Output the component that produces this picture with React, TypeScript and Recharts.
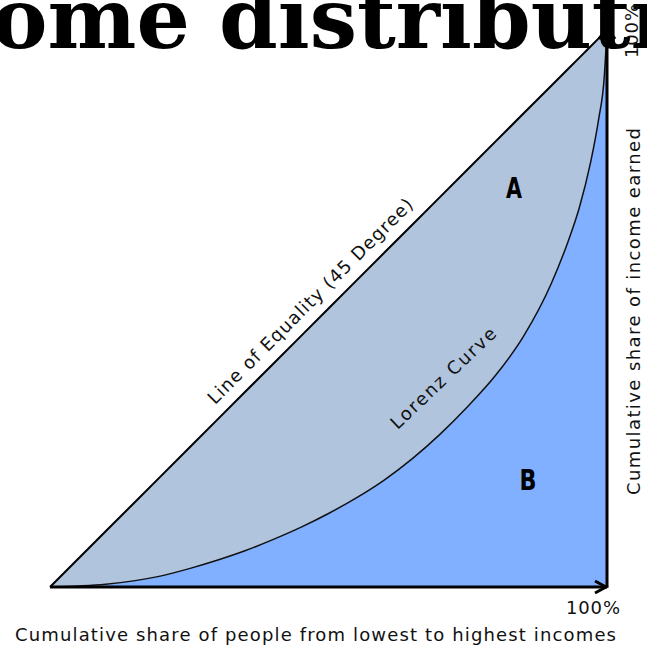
import { ComposedChart, Area, XAxis, YAxis, ReferenceLine, ReferenceDot } from 'recharts';

// cumulative share of people (x, %) and of income (y, %)
const peopleShare = [0, 10, 15, 20, 25, 30, 35, 40, 45, 50, 55, 60, 65, 70, 75, 80, 85, 90, 93, 95, 97, 98.5, 99.5, 100];
const equalityShare = [0, 10, 15, 20, 25, 30, 35, 40, 45, 50, 55, 60, 65, 70, 75, 80, 85, 90, 93, 95, 97, 98.5, 99.5, 100];
const lorenzShare = [0, 0.5, 1.1, 2.0, 3.3, 4.8, 6.5, 8.5, 10.7, 13.2, 16.0, 19.2, 23.0, 27.4, 32.4, 38.0, 45.0, 54.5, 62.0, 68.0, 76.0, 84.0, 91.5, 100];

const axisEnd = 100;
const pctLabel = '100%';
const xTitle = 'Cumulative share of people from lowest to highest incomes';
const yTitle = 'Cumulative share of income earned';
const equalityLabel = 'Line of Equality (45 Degree)';
const lorenzLabel = 'Lorenz Curve';
const pageTitle = 'Income distribution';

const data = peopleShare.map((x, i) => ({
  x,
  equality: equalityShare[i],
  lorenz: lorenzShare[i],
}));

const sans = '"DejaVu Sans", sans-serif';

function UpArrow(props: any) {
  const { cx, cy } = props;
  return (
    <polyline
      points={`${cx - 8},${cy + 9} ${cx},${cy - 2} ${cx + 8},${cy + 9}`}
      fill="none"
      stroke="#000"
      strokeWidth={3}
    />
  );
}

function RightArrow(props: any) {
  const { cx, cy } = props;
  return (
    <polyline
      points={`${cx - 12},${cy - 6} ${cx - 1},${cy} ${cx - 12},${cy + 6}`}
      fill="none"
      stroke="#000"
      strokeWidth={3}
    />
  );
}

export default function App() {
  return (
    <div style={{ position: 'absolute', left: 0, top: 0, width: 647, height: 651, background: '#fff' }}>
      <ComposedChart
        width={647}
        height={651}
        data={data}
        margin={{ top: 30, right: 40, bottom: 64, left: 50 }}
      >
        <XAxis type="number" dataKey="x" domain={[0, 100]} hide />
        <YAxis type="number" domain={[0, 100]} hide />
        <Area
          type="linear"
          dataKey="equality"
          stroke="#000"
          strokeWidth={2}
          fill="#b0c4de"
          fillOpacity={1}
          isAnimationActive={false}
        />
        <Area
          type="monotone"
          dataKey="lorenz"
          stroke="#111"
          strokeWidth={1.5}
          fill="#80b0ff"
          fillOpacity={1}
          isAnimationActive={false}
        />
        <ReferenceLine
          segment={[{ x: 0, y: 0 }, { x: axisEnd, y: 0 }]}
          stroke="#000"
          strokeWidth={3}
          ifOverflow="visible"
        />
        <ReferenceLine
          segment={[{ x: axisEnd, y: 0 }, { x: axisEnd, y: axisEnd }]}
          stroke="#000"
          strokeWidth={3}
          ifOverflow="visible"
        />
        <ReferenceDot x={axisEnd} y={axisEnd} r={0} shape={UpArrow} ifOverflow="visible" />
        <ReferenceDot x={axisEnd} y={0} r={0} shape={RightArrow} ifOverflow="visible" />
      </ComposedChart>

      <svg
        width={647}
        height={651}
        style={{ position: 'absolute', left: 0, top: 0, pointerEvents: 'none' }}
      >
        <text
          x={-160}
          y={48}
          fontFamily='"DejaVu Serif", serif'
          fontWeight="bold"
          fontSize={84}
          fill="#000"
        >
          {pageTitle}
        </text>

        <text
          x={310}
          y={301}
          transform="rotate(-45 310 301)"
          textAnchor="middle"
          dominantBaseline="central"
          fontFamily={sans}
          fontSize={18}
          textLength={282}
          lengthAdjust="spacing"
          fill="#111"
        >
          {equalityLabel}
        </text>
        <text
          x={443}
          y={378}
          transform="rotate(-43.5 443 378)"
          textAnchor="middle"
          dominantBaseline="central"
          fontFamily={sans}
          fontSize={18}
          textLength={138}
          lengthAdjust="spacing"
          fill="#111"
        >
          {lorenzLabel}
        </text>

        <text
          x={514}
          y={198}
          textAnchor="middle"
          fontFamily={sans}
          fontWeight="bold"
          fontSize={28}
          textLength={16}
          lengthAdjust="spacingAndGlyphs"
          fill="#000"
        >
          A
        </text>
        <text
          x={528}
          y={490}
          textAnchor="middle"
          fontFamily={sans}
          fontWeight="bold"
          fontSize={28}
          textLength={17}
          lengthAdjust="spacingAndGlyphs"
          fill="#000"
        >
          B
        </text>

        <text
          x={620}
          y={614}
          textAnchor="end"
          fontFamily={sans}
          fontSize={18}
          textLength={54}
          lengthAdjust="spacing"
          fill="#111"
        >
          {pctLabel}
        </text>
        <text
          x={15}
          y={641}
          fontFamily={sans}
          fontSize={18}
          textLength={601}
          lengthAdjust="spacing"
          fill="#111"
        >
          {xTitle}
        </text>

        <text
          x={638}
          y={58}
          transform="rotate(-90 638 58)"
          fontFamily={sans}
          fontSize={18}
          textLength={54}
          lengthAdjust="spacing"
          fill="#111"
        >
          {pctLabel}
        </text>
        <text
          x={640}
          y={495}
          transform="rotate(-90 640 495)"
          fontFamily={sans}
          fontSize={18}
          textLength={367}
          lengthAdjust="spacing"
          fill="#111"
        >
          {yTitle}
        </text>
      </svg>
    </div>
  );
}
